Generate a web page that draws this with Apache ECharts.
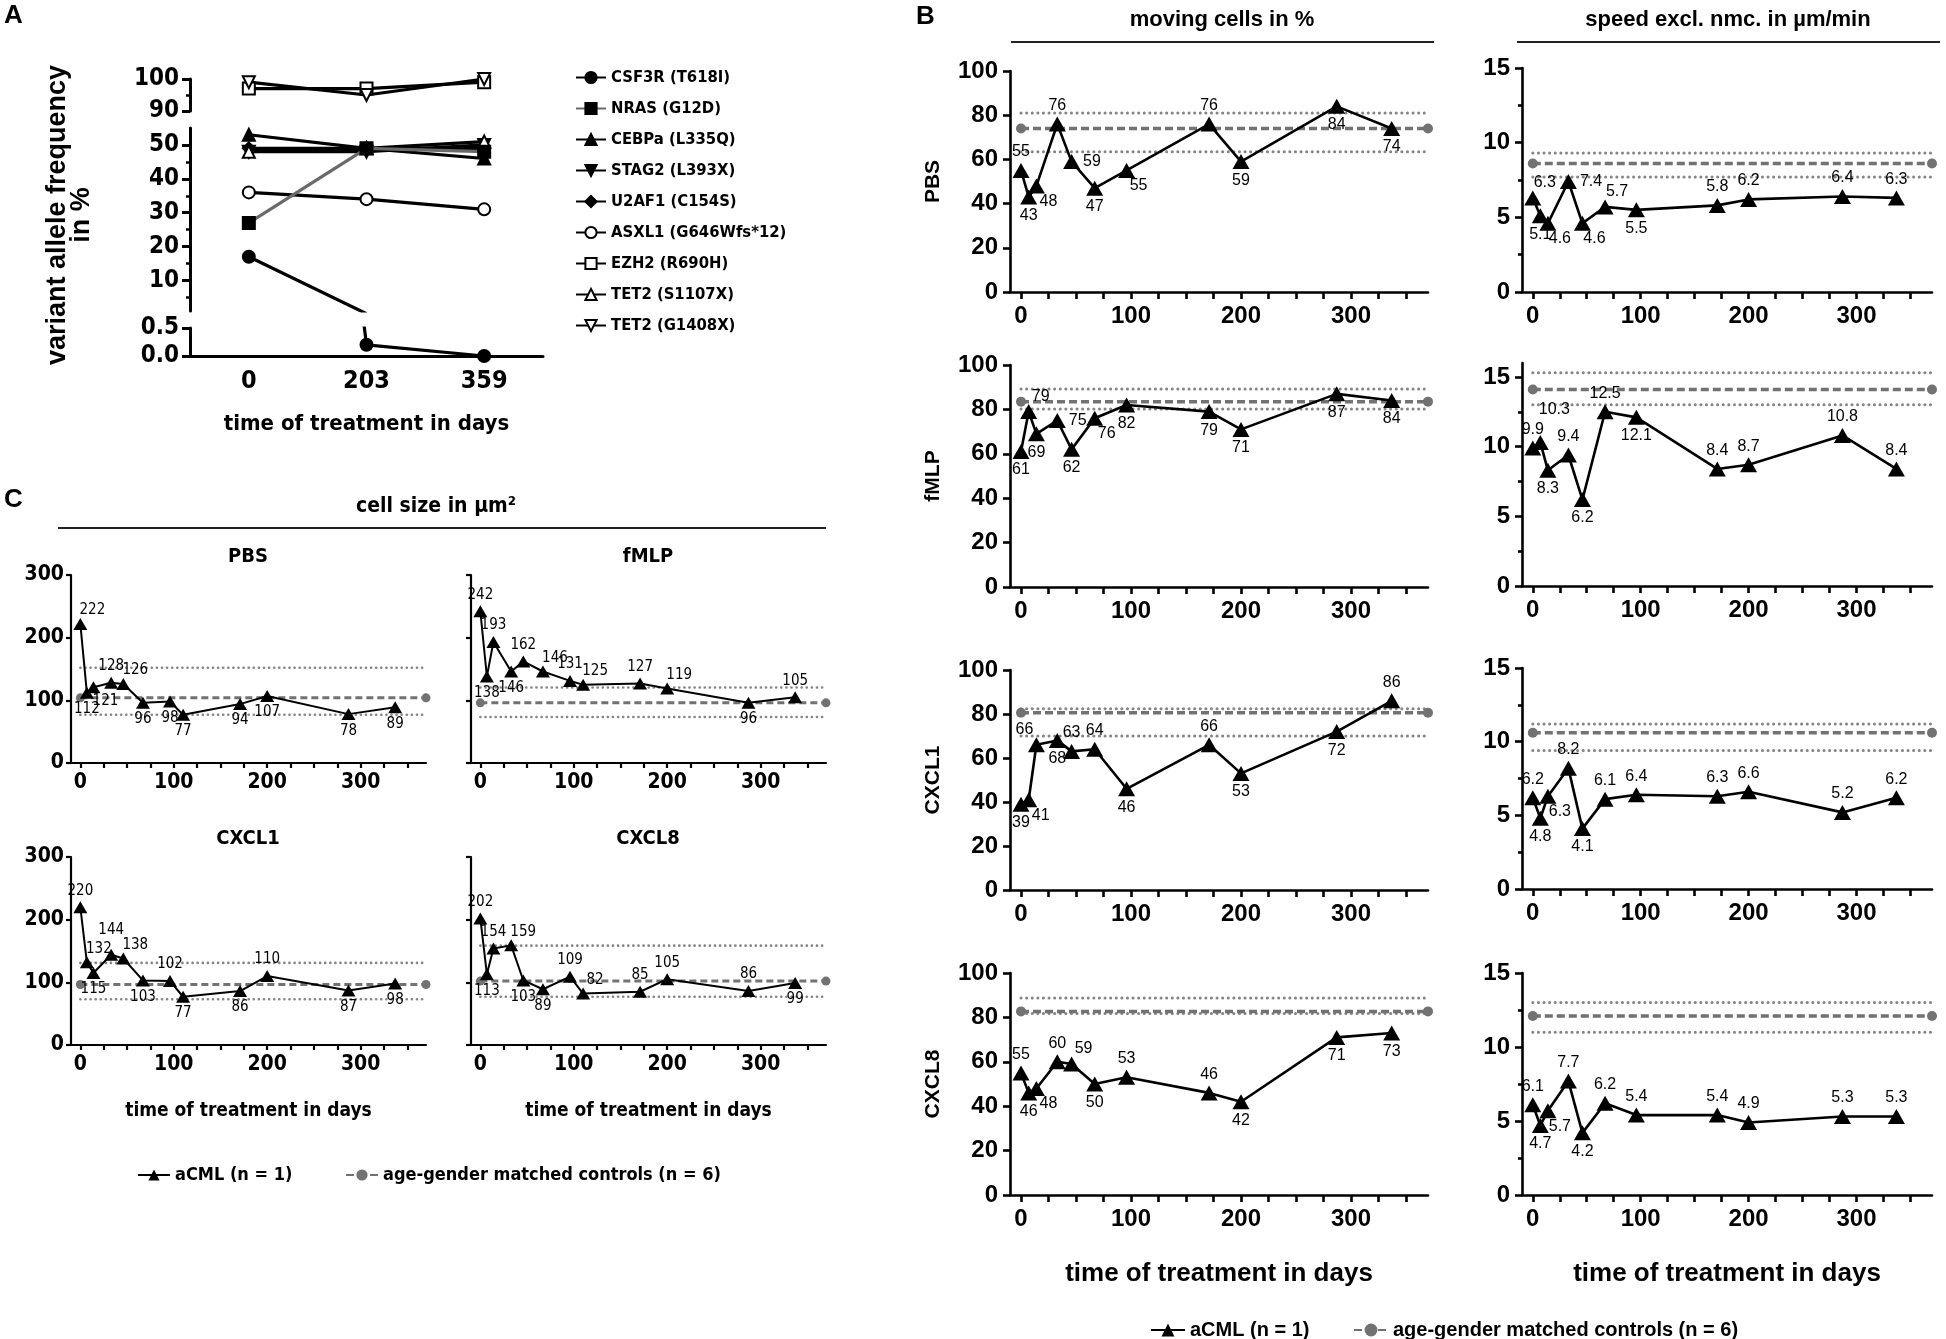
<!DOCTYPE html>
<html>
<head>
<meta charset="utf-8">
<title>aCML figure</title>
<script src="https://cdn.jsdelivr.net/npm/echarts@6.0.0/dist/echarts.min.js"></script>
<style>
html,body{margin:0;padding:0;background:#fff;}
#chart{width:1946px;height:1339px;}
</style>
</head>
<body>
<div id="chart"></div>
<script>
// ===================== DATA =====================
// Panel A: variant allele frequency
const vafTimepoints = ['0', '203', '359'];
const mutations = ['CSF3R (T618I)', 'NRAS (G12D)', 'CEBPa (L335Q)', 'STAG2 (L393X)', 'U2AF1 (C154S)',
  'ASXL1 (G646Wfs*12)', 'EZH2 (R690H)', 'TET2 (S1107X)', 'TET2 (G1408X)'];
const vafCSF3R = [17, 0.2, 0.0];
const vafNRAS  = [27, 49, 48];
const vafCEBPa = [53, 49, 46];
const vafSTAG2 = [48, 48, 50];
const vafU2AF1 = [49, 49, 49];
const vafASXL1 = [36, 34, 31];
const vafEZH2  = [97, 97, 99];
const vafTET2a = [48, 49, 51];
const vafTET2b = [99, 95, 100];
const vafTicksTop = [90, 100];
const vafMinorTop = [95];
const vafTicksMid = [10, 20, 30, 40, 50];
const vafMinorMid = [5, 15, 25, 35, 45];
const vafTicksLow = [0, 0.5];

// Panels B and C
const conditions = ['PBS', 'fMLP', 'CXCL1', 'CXCL8'];
const daysB = [0, 7, 14, 33, 46, 67, 96, 171, 200, 287, 337];
const daysC = [0, 7, 14, 33, 46, 67, 96, 110, 171, 200, 287, 337];
const dayTickLabels = [0, 100, 200, 300];
const dayTicks = [0, 25, 50, 75, 100, 125, 150, 175, 200, 225, 250, 275, 300, 325, 350];
const controlDays = [0, 370];
const movingTicks = [0, 20, 40, 60, 80, 100];
const speedTicks = [0, 5, 10, 15];
const speedMinorTicks = [2.5, 7.5, 12.5];
const sizeTicks = [0, 100, 200, 300];

const movingPBS   = [55, 43, 48, 76, 59, 47, 55, 76, 59, 84, 74];
const movingFMLP  = [61, 79, 69, 75, 62, 76, 82, 79, 71, 87, 84];
const movingCXCL1 = [39, 41, 66, 68, 63, 64, 46, 66, 53, 72, 86];
const movingCXCL8 = [55, 46, 48, 60, 59, 50, 53, 46, 42, 71, 73];
const speedPBS    = [6.3, 5.1, 4.6, 7.4, 4.6, 5.7, 5.5, 5.8, 6.2, 6.4, 6.3];
const speedFMLP   = [9.9, 10.3, 8.3, 9.4, 6.2, 12.5, 12.1, 8.4, 8.7, 10.8, 8.4];
const speedCXCL1  = [6.2, 4.8, 6.3, 8.2, 4.1, 6.1, 6.4, 6.3, 6.6, 5.2, 6.2];
const speedCXCL8  = [6.1, 4.7, 5.7, 7.7, 4.2, 6.2, 5.4, 5.4, 4.9, 5.3, 5.3];
const sizePBS     = [222, 112, 121, 128, 126, 96, 98, 77, 94, 107, 78, 89];
const sizeFMLP    = [242, 138, 193, 146, 162, 146, 131, 125, 127, 119, 96, 105];
const sizeCXCL1   = [220, 132, 115, 144, 138, 103, 102, 77, 86, 110, 87, 98];
const sizeCXCL8   = [202, 113, 154, 159, 103, 89, 109, 82, 85, 105, 86, 99];

// controls: mean and range bounds, one per condition
const movingCtrlMean = [74, 83.5, 80.6, 82.7];
const movingCtrlLow  = [63.5, 80.2, 70, 81.8];
const movingCtrlHigh = [81, 89.2, 82.4, 88.7];
const speedCtrlMean  = [8.6, 14.1, 10.6, 12.1];
const speedCtrlLow   = [7.7, 13.0, 9.4, 11.0];
const speedCtrlHigh  = [9.3, 15.3, 11.2, 13.0];
const sizeCtrlMean   = [104, 96, 96.5, 102];
const sizeCtrlLow    = [77, 73.5, 73, 77];
const sizeCtrlHigh   = [152, 120.5, 131, 158.5];

// ===================== LABEL PLACEMENT (style) =====================
const lblMoving = [
  ['t','b','br','t','r','b','br','t','b','b','b'],
  ['b','tr','b','r','b','br','b','b','b','b','b'],
  ['b','br','tl','b','t','t','b','t','b','b','t'],
  ['t','b','br','t','tr','b','t','t','b','b','b']
];
const lblSpeed = [
  ['tr','b','br','r','br','tr','b','t','t','t','t'],
  ['t','tr2','b','t','b','t','b','t','t','t','t'],
  ['t','b','br','t','b','t','t','t','t','t','t'],
  ['t','b','br','t','b','t','t','t','t','t','t']
];
const lblSize = [
  ['tr','b','br','t','tr','b','b','b','b','b','b','b'],
  ['t','b','t','b','t','tr','t','tr','t','tr','b','t'],
  ['t','tr','b','tt','tr','b','t','b','b','t','b','b'],
  ['t','b','t','tr','b','b','t','tr','t','t','t','b']
];
const posMap = {
  t:{position:'top'}, b:{position:'bottom'}, r:{position:'right'}, l:{position:'left'},
  tr:{position:'top', offset:[12, 3]}, br:{position:'bottom', offset:[12, -3]},
  tl:{position:'top', offset:[-12, 3]}, bl:{position:'bottom', offset:[-12, -3]},
  tt:{position:'top', offset:[0, -8]}, tr2:{position:'top', offset:[14, -14]}
};

// ===================== BUILD =====================
const F = "'Liberation Sans', Arial, sans-serif";
const N = "'Liberation Sans Narrow', 'Arial Narrow', 'DejaVu Sans Condensed', 'Liberation Sans', sans-serif";
const ACML = 'aCML (n = 1)';
const CTRL = 'age-gender matched controls (n = 6)';

const grids = [], xAxes = [], yAxes = [], series = [], graphics = [], legends = [];

// ---------- Panel A (broken y axis: three stacked grids) ----------
const vafSeries = [vafCSF3R, vafNRAS, vafCEBPa, vafSTAG2, vafU2AF1, vafASXL1, vafEZH2, vafTET2a, vafTET2b];
const DOWN = 'path://M0,0L10,0L5,9Z';
const mutStyle = [
  {symbol:'circle', fill:'#000', line:'#000'},
  {symbol:'rect', fill:'#000', line:'#6a6a6a'},
  {symbol:'triangle', fill:'#000', line:'#000'},
  {symbol:DOWN, fill:'#000', line:'#000'},
  {symbol:'diamond', fill:'#000', line:'#000'},
  {symbol:'emptyCircle', fill:'#000', line:'#000'},
  {symbol:'emptyRect', fill:'#000', line:'#000'},
  {symbol:'emptyTriangle', fill:'#000', line:'#000'},
  {symbol:DOWN, fill:'#fff', line:'#000'}
];
const aParts = [
  {top:79, height:32, min:90, max:100, ticks:vafTicksTop, minor:vafMinorTop, fmt:v => String(v)},
  {top:128, height:183, min:1, max:55, ticks:vafTicksMid, minor:vafMinorMid, fmt:v => String(v)},
  {top:328, height:28, min:0, max:0.5, ticks:vafTicksLow, minor:[], fmt:v => v.toFixed(1)}
];
// keep points of one segment; out-of-range points are kept (without symbol) only
// when the line to a neighbour crosses into this segment
function segmentData(vals, min, max) {
  return vals.map((v, k) => {
    if (v >= min && v <= max) return v;
    const below = v < min;
    const nb = [vals[k - 1], vals[k + 1]].filter(u => u !== undefined);
    const crosses = nb.some(u => below ? u >= min : u <= max);
    return crosses ? {value:v, symbol:'none'} : null;
  });
}
const aX = [], aY = [];
aParts.forEach((p, k) => {
  const gi = grids.length;
  grids.push({left:190, width:353, top:p.top, height:p.height});
  const bottom = k === 2;
  aX.push(xAxes.length);
  xAxes.push({
    type:'category', gridIndex:gi, data:vafTimepoints, show:bottom,
    axisLine:{onZero:false, lineStyle:{color:'#000', width:3}},
    axisTick:{alignWithLabel:true, length:8, lineStyle:{color:'#000', width:3}},
    axisLabel:{color:'#000', fontFamily:N, fontWeight:'bold', fontSize:25, margin:13},
    name: bottom ? 'time of treatment in days' : '', nameLocation:'middle', nameGap:57,
    nameTextStyle:{color:'#000', fontFamily:N, fontWeight:'bold', fontSize:22}
  });
  aY.push(yAxes.length);
  yAxes.push({
    type:'value', gridIndex:gi, position:'left', min:p.min, max:p.max,
    axisLine:{show:true, onZero:false, lineStyle:{color:'#000', width:3}},
    axisTick:{show:true, customValues:p.ticks, length:8, lineStyle:{color:'#000', width:3}},
    axisLabel:{customValues:p.ticks, formatter:p.fmt, color:'#000', fontFamily:N, fontWeight:'bold', fontSize:24, margin:11},
    splitLine:{show:false}
  });
  if (p.minor.length) {
    yAxes.push({
      type:'value', gridIndex:gi, position:'left', min:p.min, max:p.max,
      axisLine:{show:false, onZero:false},
      axisTick:{show:true, customValues:p.minor, length:4, lineStyle:{color:'#000', width:2.5}},
      axisLabel:{show:false}, splitLine:{show:false}
    });
  }
});
vafSeries.forEach((vals, g) => {
  const st = mutStyle[g];
  aParts.forEach((p, k) => {
    series.push({
      type:'line', name:mutations[g], xAxisIndex:aX[k], yAxisIndex:aY[k],
      data:segmentData(vals, p.min, p.max), connectNulls:false,
      symbol:st.symbol, symbolSize:12, clip:true, silent:true,
      itemStyle:{color:st.fill, borderColor:'#000', borderWidth:2},
      lineStyle:{color:st.line, width:3.2},
      z: g === 1 ? 4 : 3
    });
  });
});
legends.push({
  data:mutations, orient:'vertical', left:570, top:64, itemWidth:30, itemHeight:14, itemGap:14,
  selectedMode:false, textStyle:{color:'#000', fontFamily:N, fontWeight:'bold', fontSize:16.5}
});
graphics.push({type:'text', x:70, y:215, rotation:Math.PI/2,
  style:{text:'variant allele frequency\nin %', font:"bold 27px 'Liberation Sans'", fill:'#000',
    align:'center', verticalAlign:'middle', textAlign:'center', textVerticalAlign:'middle', lineHeight:24}});

// ---------- panel helper for B and C ----------
function makePanel(c) {
  const gi = grids.length;
  grids.push({left:c.left, top:c.top, width:c.width, height:c.height});
  const xi = xAxes.length;
  xAxes.push({
    type:'value', gridIndex:gi, min:-10, max:370,
    axisLine:{onZero:false, lineStyle:{color:'#000', width:c.lw}},
    axisTick:{show:true, customValues:dayTicks, length:c.tickLen, lineStyle:{color:'#000', width:c.lw}},
    axisLabel:{customValues:dayTickLabels, color:'#000', fontFamily:c.font, fontWeight:'bold', fontSize:c.tickFs, margin:c.xMargin},
    splitLine:{show:false},
    name:c.xName || '', nameLocation:'middle', nameGap:c.xNameGap || 0,
    nameTextStyle:{color:'#000', fontFamily:c.font, fontWeight:'bold', fontSize:c.nameFs}
  });
  const yi = yAxes.length;
  yAxes.push({
    type:'value', gridIndex:gi, position:'left', min:0, max:c.yMax,
    axisLine:{show:true, onZero:false, lineStyle:{color:'#000', width:c.lw}},
    axisTick:{show:true, customValues:c.yTicks, length:c.tickLen, lineStyle:{color:'#000', width:c.lw}},
    axisLabel:{show:c.yLabels, customValues:c.yTicks, color:'#000', fontFamily:c.font, fontWeight:'bold', fontSize:c.tickFs, margin:c.yMargin},
    splitLine:{show:false},
    name:c.yName || '', nameLocation:'middle', nameRotate:90, nameGap:c.yNameGap || 0,
    nameTextStyle:{color:'#000', fontFamily:c.font, fontWeight:'bold', fontSize:c.yNameFs || 20}
  });
  if (c.yMinor) {
    yAxes.push({
      type:'value', gridIndex:gi, position:'left', min:0, max:c.yMax,
      axisLine:{show:false, onZero:false},
      axisTick:{show:true, customValues:c.yMinor, length:Math.round(c.tickLen * 0.55), lineStyle:{color:'#000', width:c.lw}},
      axisLabel:{show:false}, splitLine:{show:false}
    });
  }
  return {xi, yi};
}

function addMeasure(ax, days, vals, lbls, fmt, mean, lo, hi, st) {
  [lo, hi].forEach(v => series.push({
    type:'line', name:'control range', xAxisIndex:ax.xi, yAxisIndex:ax.yi,
    data:controlDays.map(d => [d, v]), symbol:'none', silent:true,
    lineStyle:{color:'#858585', width:st.dotW, type:[0.1, st.dotGap], cap:'round'}, z:1
  }));
  series.push({
    type:'line', name:CTRL, xAxisIndex:ax.xi, yAxisIndex:ax.yi,
    data:controlDays.map(d => [d, mean]), symbol:'circle', symbolSize:st.dot, silent:true,
    itemStyle:{color:'#727272'}, lineStyle:{color:'#727272', width:st.dashW, type:[st.dashLen, st.dashGap]}, z:2
  });
  series.push({
    type:'line', name:ACML, xAxisIndex:ax.xi, yAxisIndex:ax.yi, silent:true,
    data:days.map((d, k) => ({value:[d, vals[k]], label:Object.assign({}, posMap[lbls[k]])})),
    symbol:'triangle', symbolSize:st.tri, itemStyle:{color:'#000'},
    lineStyle:{color:'#000', width:st.lw},
    label:{show:true, formatter:p => fmt(p.value[1]), color:'#000', fontFamily:st.lblFont, fontSize:st.lblFs, distance:3},
    z:5
  });
}

// ---------- Panel B ----------
const movingData = [movingPBS, movingFMLP, movingCXCL1, movingCXCL8];
const speedData = [speedPBS, speedFMLP, speedCXCL1, speedCXCL8];
const rowsMoving = [{top:71, h:221}, {top:365, h:222}, {top:670, h:220}, {top:973, h:222}];
const rowsSpeed  = [{top:68, h:224}, {top:363, h:223}, {top:668, h:221}, {top:973, h:222}];
const speedMax = [15, 16, 15, 15];
const stB = {dotW:3, dotGap:5.5, dot:10, dashW:3.5, dashLen:8, dashGap:4, tri:[17, 15], lw:2.6, lblFont:F, lblFs:16};
for (let i = 0; i < 4; i++) {
  const last = i === 3;
  const axM = makePanel({left:1010, width:418, top:rowsMoving[i].top, height:rowsMoving[i].h,
    yMax:100, yTicks:movingTicks, yLabels:true, lw:2.6, tickLen:7, font:F, tickFs:24, xMargin:12, yMargin:12,
    yName:conditions[i], yNameGap:66, yNameFs:21,
    xName: last ? 'time of treatment in days' : '', xNameGap:66, nameFs:26});
  addMeasure(axM, daysB, movingData[i], lblMoving[i], v => String(Math.round(v)),
    movingCtrlMean[i], movingCtrlLow[i], movingCtrlHigh[i], stB);
  const axS = makePanel({left:1522, width:410, top:rowsSpeed[i].top, height:rowsSpeed[i].h,
    yMax:speedMax[i], yTicks:speedTicks, yMinor:speedMinorTicks, yLabels:true, lw:2.6, tickLen:7, font:F, tickFs:24, xMargin:12, yMargin:12,
    xName: last ? 'time of treatment in days' : '', xNameGap:66, nameFs:26});
  addMeasure(axS, daysB, speedData[i], lblSpeed[i], v => v.toFixed(1),
    speedCtrlMean[i], speedCtrlLow[i], speedCtrlHigh[i], stB);
}

// ---------- Panel C ----------
const sizeData = [sizePBS, sizeFMLP, sizeCXCL1, sizeCXCL8];
const cPos = [{left:71, top:575}, {left:471, top:575}, {left:71, top:857}, {left:471, top:857}];
const stC = {dotW:2.6, dotGap:5, dot:9, dashW:3, dashLen:7, dashGap:4, tri:[14, 12], lw:2, lblFont:N, lblFs:15};
for (let i = 0; i < 4; i++) {
  const ax = makePanel({left:cPos[i].left, width:355, top:cPos[i].top, height:188,
    yMax:300, yTicks:sizeTicks, yLabels:(i % 2 === 0), lw:2.2, tickLen:5, font:N, tickFs:21, xMargin:9, yMargin:7,
    xName: i >= 2 ? 'time of treatment in days' : '', xNameGap:57, nameFs:19});
  addMeasure(ax, daysC, sizeData[i], lblSize[i], v => String(Math.round(v)),
    sizeCtrlMean[i], sizeCtrlLow[i], sizeCtrlHigh[i], stC);
  graphics.push({type:'text', x:cPos[i].left + 177, y:cPos[i].top - 18,
    style:{text:conditions[i], font:"bold 20px 'Liberation Sans Narrow', 'DejaVu Sans Condensed', 'Liberation Sans'", fill:'#000',
      align:'center', verticalAlign:'middle', textAlign:'center', textVerticalAlign:'middle'}});
}

// ---------- legends B and C ----------
const legB = {fontFamily:F, fontWeight:'bold', fontSize:20, color:'#000'};
const legC = {fontFamily:N, fontWeight:'bold', fontSize:18, color:'#000'};
legends.push({data:[ACML], left:1145, top:1315, itemWidth:34, itemHeight:16, selectedMode:false, textStyle:legB});
legends.push({data:[CTRL], left:1348, top:1315, itemWidth:34, itemHeight:16, selectedMode:false, textStyle:legB});
legends.push({data:[ACML], left:132, top:1161, itemWidth:32, itemHeight:14, selectedMode:false, textStyle:legC});
legends.push({data:[CTRL], left:340, top:1161, itemWidth:32, itemHeight:14, selectedMode:false, textStyle:legC});

// ---------- headers & panel letters ----------
function txt(s, x, y, font, align) {
  graphics.push({type:'text', x:x, y:y, style:{text:s, font:font, fill:'#000',
    align:align || 'center', verticalAlign:'middle', textAlign:align || 'center', textVerticalAlign:'middle'}});
}
function hline(x1, x2, y) {
  graphics.push({type:'line', shape:{x1:x1, y1:y, x2:x2, y2:y}, style:{stroke:'#222', lineWidth:2}});
}
txt('A', 4, 16, "bold 26px 'Liberation Sans'", 'left');
txt('B', 916, 17, "bold 26px 'Liberation Sans'", 'left');
txt('C', 4, 500, "bold 26px 'Liberation Sans'", 'left');
txt('moving cells in %', 1222, 20, "bold 22px 'Liberation Sans'");
hline(1011, 1434, 42);
txt('speed excl. nmc. in µm/min', 1728, 20, "bold 22px 'Liberation Sans'");
hline(1517, 1940, 42);
txt('cell size in µm²', 436, 507, "bold 21px 'Liberation Sans Narrow', 'DejaVu Sans Condensed', 'Liberation Sans'");
hline(58, 826, 528);

const chart = echarts.init(document.getElementById('chart'), null, {renderer:'canvas'});
chart.setOption({
  animation:false, backgroundColor:'#fff',
  textStyle:{fontFamily:F},
  grid:grids, xAxis:xAxes, yAxis:yAxes, series:series, legend:legends, graphic:graphics
});
</script>
</body>
</html>
